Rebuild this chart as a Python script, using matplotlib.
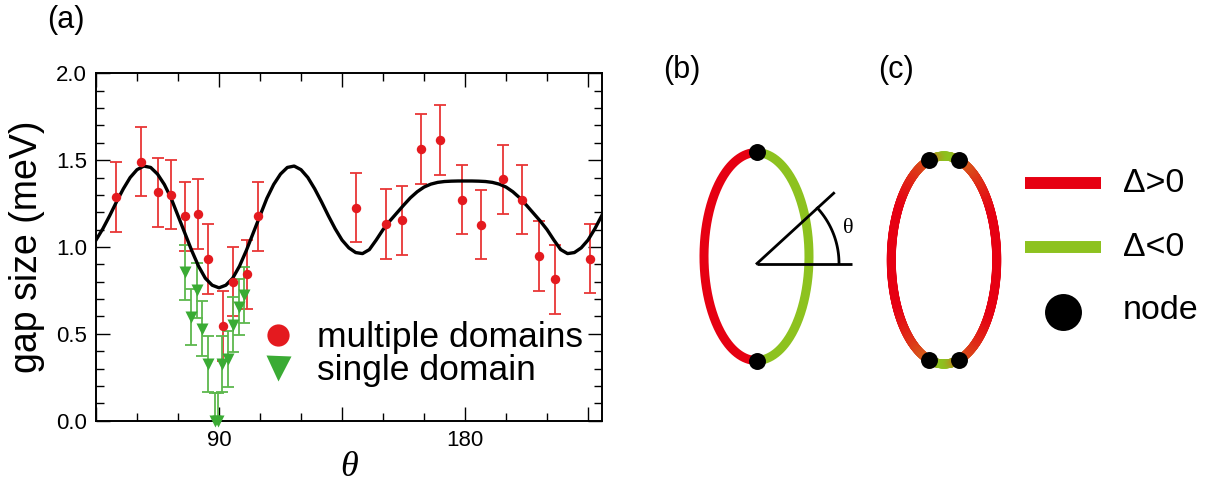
import numpy as np
import matplotlib
matplotlib.use("Agg")
import matplotlib.pyplot as plt
from matplotlib.lines import Line2D
from matplotlib.collections import LineCollection
from matplotlib.ticker import MultipleLocator, FixedLocator, FormatStrFormatter

plt.rcParams['font.family'] = ['Liberation Sans', 'DejaVu Sans']

# ---- gap measurements, multiple-domain samples (deg, meV) ----
theta_multi = [52.3, 61.5, 67.5, 72.4, 77.5, 82.3, 86.1, 91.3, 95.3, 100.1, 104.4,
               140.1, 151.1, 156.8, 164.0, 170.9, 179.0, 186.0, 193.9, 200.8,
               206.9, 213.0, 225.6]
gap_multi = [1.287, 1.492, 1.314, 1.301, 1.176, 1.190, 0.931, 0.544, 0.800, 0.843, 1.176,
             1.226, 1.132, 1.153, 1.563, 1.615, 1.272, 1.129, 1.389, 1.272,
             0.948, 0.814, 0.933]
err_multi = [0.20, 0.20, 0.20, 0.20, 0.20, 0.20, 0.20, 0.20, 0.20, 0.20, 0.20,
             0.20, 0.20, 0.20, 0.20, 0.20, 0.20, 0.20, 0.20, 0.20,
             0.20, 0.20, 0.20]

# ---- single-domain samples ----
theta_single = [77.6, 79.7, 81.8, 83.9, 85.8, 88.5, 89.8, 91.2, 93.4, 95.1, 97.3, 99.1]
gap_single = [0.854, 0.596, 0.750, 0.530, 0.325, 0.0, 0.0, 0.325, 0.354, 0.553, 0.654, 0.725]
err_single = [0.16, 0.16, 0.16, 0.16, 0.16, 0.16, 0.16, 0.16, 0.16, 0.16, 0.16, 0.16]

# ---- model curve ----
theta_fit = [45, 47.5, 50, 52.5, 55, 57.5, 60, 62.5, 65, 67.5, 70, 72.5, 75, 77.5,
             80, 82.5, 85, 87.5, 90, 92.5, 95, 97.5, 100, 102.5, 105, 107.5, 110,
             112.5, 115, 117.5, 120, 122.5, 125, 127.5, 130, 132.5, 135, 137.5,
             140, 142.5, 145, 147.5, 150, 152.5, 155, 157.5, 160, 162.5, 165,
             167.5, 170, 172.5, 175, 177.5, 180, 182.5, 185, 187.5, 190, 192.5,
             195, 197.5, 200, 202.5, 205, 207.5, 210, 212.5, 215, 217.5, 220,
             222.5, 225, 227.5, 230]
gap_fit = [1.040, 1.105, 1.180, 1.260, 1.335, 1.400, 1.445, 1.466, 1.458, 1.420,
           1.360, 1.280, 1.180, 1.080, 0.980, 0.890, 0.820, 0.780, 0.765, 0.780,
           0.820, 0.890, 0.980, 1.080, 1.180, 1.280, 1.360, 1.420, 1.458, 1.466,
           1.445, 1.400, 1.335, 1.260, 1.180, 1.105, 1.040, 0.995, 0.968, 0.962,
           0.985, 1.040, 1.100, 1.150, 1.195, 1.240, 1.283, 1.318, 1.345, 1.362,
           1.372, 1.377, 1.379, 1.380, 1.380, 1.380, 1.379, 1.377, 1.372, 1.362,
           1.345, 1.318, 1.283, 1.240, 1.195, 1.150, 1.100, 1.040, 0.985, 0.962,
           0.968, 0.995, 1.040, 1.105, 1.180]

xtick_major = [45, 90, 135, 180, 225]
xtick_labels = ['', '90', '', '180', '']

RED = '#e41a1f'
RED_BAR = '#e83636'
GREEN = '#3aab34'
GREEN_BAR = '#5db84d'
W, H = 1214, 490

fig = plt.figure(figsize=(W / 100, H / 100), dpi=100)

# ---------------- panel (a) ----------------
ax = fig.add_axes([96 / W, 1 - 420.7 / H, (601.7 - 96) / W, (420.7 - 73.3) / H])
ax.set_xlim(45, 230)
ax.set_ylim(0, 2.0)

ax.errorbar(theta_multi, gap_multi, yerr=err_multi, fmt='none', ecolor=RED_BAR,
            elinewidth=1.3, capsize=4.5, capthick=1.3, zorder=2)
ax.errorbar(theta_single, gap_single, yerr=err_single, fmt='none', ecolor=GREEN_BAR,
            elinewidth=1.3, capsize=4.2, capthick=1.3, zorder=2)
ax.plot(theta_fit, gap_fit, color='k', lw=2.4, zorder=3)
ax.plot(theta_multi, gap_multi, 'o', color=RED, ms=6.8, mec='none', zorder=4)
ax.plot(theta_single, gap_single, 'v', color=GREEN, ms=8.5, mec='none', zorder=4,
        clip_on=False)

ax.xaxis.set_major_locator(FixedLocator(xtick_major))
ax.set_xticklabels(xtick_labels)
ax.xaxis.set_minor_locator(MultipleLocator(15))
ax.yaxis.set_major_locator(MultipleLocator(0.5))
ax.yaxis.set_minor_locator(MultipleLocator(0.1))
ax.yaxis.set_major_formatter(FormatStrFormatter('%.1f'))
ax.tick_params(which='both', direction='in', top=True, right=True, width=1.0,
               labelsize=16, colors='k')
ax.tick_params(which='major', length=10)
ax.tick_params(which='minor', length=5.8)
ax.tick_params(axis='y', pad=6.5)
ax.tick_params(axis='x', pad=7)
for sp in ax.spines.values():
    sp.set_linewidth(1.4)

ax.set_ylabel('gap size (meV)', fontsize=27, labelpad=8)
ax.set_xlabel('θ', fontsize=26, family=['Liberation Serif', 'DejaVu Serif'],
              style='italic', labelpad=0)

handles = [Line2D([], [], marker='o', ls='none', color=RED, ms=16, mec='none'),
           Line2D([], [], marker='v', ls='none', color=GREEN, ms=18, mec='none')]
ax.legend(handles, ['multiple domains', 'single domain'], loc='center left',
          bbox_to_anchor=(0.3243, 0.192), frameon=False, fontsize=25.5,
          handlelength=1.0, handletextpad=0.6, labelspacing=0.0, borderpad=0,
          borderaxespad=0)

fig.text(66 / W, 1 - 20 / H, '(a)', fontsize=22, ha='center', va='center')

# ---------------- panels (b), (c) ----------------
ax2 = fig.add_axes([620 / W, 0, (W - 620) / W, 1])
ax2.set_xlim(620, W)
ax2.set_ylim(H, 0)
ax2.axis('off')

C_RED = np.array([0.902, 0.0, 0.071])
C_ORANGE = np.array([0.835, 0.420, 0.110])
C_GREEN = np.array([0.553, 0.761, 0.122])
ring_lw = 6.5

ax2.text(682, 70, '(b)', fontsize=22, ha='center', va='center')
ax2.text(896, 70, '(c)', fontsize=22, ha='center', va='center')

# (b): two-lobe sign structure on the ring
bx, by, ba, bb = 756.5, 256.5, 52.5, 104
t_left = np.radians(np.linspace(90, 270, 200))
t_right = np.radians(np.linspace(-90, 90, 200))
ax2.plot(bx + ba * np.cos(t_left), by - bb * np.sin(t_left), color=C_RED, lw=ring_lw,
         solid_capstyle='butt')
ax2.plot(bx + ba * np.cos(t_right), by - bb * np.sin(t_right), color=C_GREEN,
         lw=ring_lw, solid_capstyle='butt')

ox, oy = 757, 263.5
ax2.plot([ox, 852], [oy, oy], color='k', lw=2.0, solid_capstyle='butt')
ang = np.radians(42.5)
ax2.plot([ox, ox + 104 * np.cos(ang)], [oy, oy - 104 * np.sin(ang)], color='k', lw=2.0)
arc_t = np.radians(np.linspace(0, 42.5, 60))
ax2.plot(ox + 82 * np.cos(arc_t), oy - 82 * np.sin(arc_t), color='k', lw=2.0)
ax2.text(848, 228, 'θ', fontsize=16, family=['Liberation Serif', 'DejaVu Serif'],
         ha='center', va='center')
ax2.plot([bx, bx], [by - bb, by + bb], 'o', color='k', ms=12.2, mec='none')

# (c): ring with four nodes, colour blended by sign
cx, cy, ca, cb = 944, 260, 52.7, 104
node_t = 73.5
half_gap = 90 - node_t
tt = np.linspace(0, 360, 721)
d = np.abs((tt % 180) - 90)
cols = np.empty((tt.size, 3))
for i, di in enumerate(d):
    if di <= half_gap:
        f = (di / half_gap) ** 2
        cols[i] = (1 - f) * C_GREEN + f * C_ORANGE
    else:
        f = np.clip((di - half_gap) / 45, 0, 1) ** 0.8
        cols[i] = (1 - f) * C_ORANGE + f * C_RED
tr = np.radians(tt)
pts = np.column_stack([cx + ca * np.cos(tr), cy - cb * np.sin(tr)])
segs = np.stack([pts[:-1], pts[1:]], axis=1)
seg_cols = 0.5 * (cols[:-1] + cols[1:])
ax2.add_collection(LineCollection(segs, colors=seg_cols, linewidths=ring_lw,
                                  capstyle='round'))
for a_deg in (node_t, 180 - node_t, 180 + node_t, 360 - node_t):
    ar = np.radians(a_deg)
    ax2.plot(cx + ca * np.cos(ar), cy - cb * np.sin(ar), 'o', color='k', ms=12.2,
             mec='none')

# key
ax2.plot([1025, 1101], [183, 183], color=C_RED, lw=8.6, solid_capstyle='butt')
ax2.plot([1025, 1101], [247, 247], color=C_GREEN, lw=8.6, solid_capstyle='butt')
ax2.plot([1062.5], [312], 'o', color='k', ms=26.6, mec='none')
ax2.text(1123, 183, 'Δ>0', fontsize=24.5, ha='left', va='center')
ax2.text(1123, 247, 'Δ<0', fontsize=24.5, ha='left', va='center')
ax2.text(1123, 310, 'node', fontsize=24.5, ha='left', va='center')

fig.savefig('out.png', dpi=100)
